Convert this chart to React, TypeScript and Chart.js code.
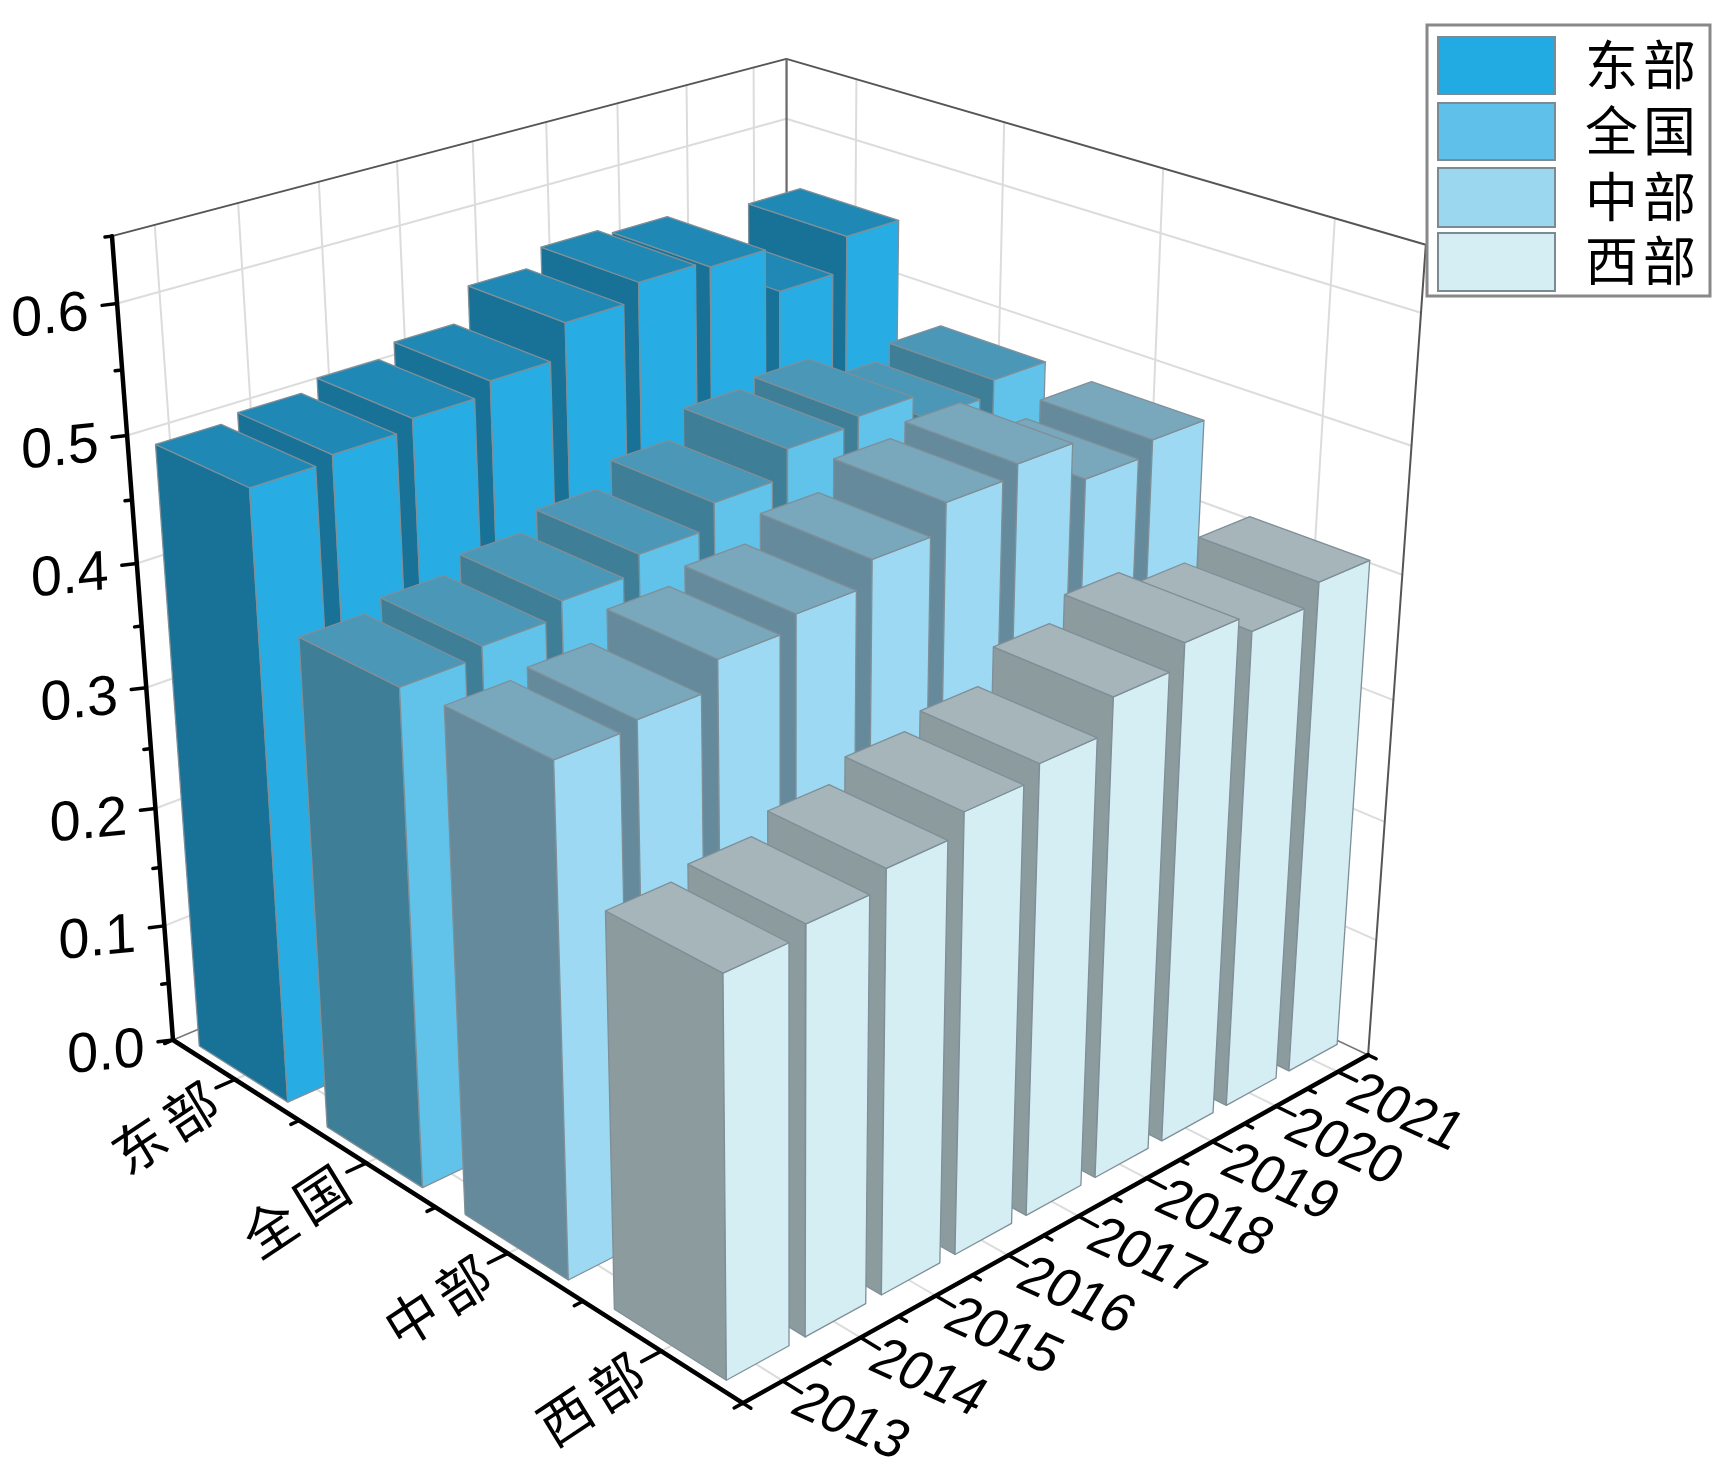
import React, { useEffect, useRef } from "react";
import { Chart, registerables } from "chart.js";

Chart.register(...registerables);

const regions = ["东部", "全国", "中部", "西部"];
const years = ["2013", "2014", "2015", "2016", "2017", "2018", "2019", "2020", "2021"];
const eastValues = [0.498, 0.503, 0.511, 0.521, 0.548, 0.562, 0.557, 0.52, 0.548];
const nationalValues = [0.4, 0.408, 0.42, 0.434, 0.453, 0.475, 0.481, 0.46, 0.472];
const centralValues = [0.403, 0.408, 0.429, 0.44, 0.459, 0.481, 0.49, 0.458, 0.469];
const westValues = [0.311, 0.319, 0.333, 0.349, 0.36, 0.386, 0.404, 0.39, 0.406];
const valueTicks = [0, 0.1, 0.2, 0.3, 0.4, 0.5, 0.6];
const valueMax = 0.65;

const seriesValues = [eastValues, nationalValues, centralValues, westValues];
const rightColors = ["#27ADE3", "#62C3EA", "#9DD9F2", "#D5EEF4"];
const leftColors = ["#187197", "#3F7E97", "#648A9B", "#8B9B9E"];
const topColors = ["#1F88B4", "#4B97B8", "#79A8BD", "#A5B5BA"];
const legendColors = ["#22ABE2", "#5FC1E9", "#9BD8F0", "#D5EEF4"];

const W = 1732;
const H = 1472;

// perspective camera: origin and three weighted vanishing points
function project(u: number, v: number, value: number) {
  const z = value / valueMax;
  const wu = -0.1456, wv = 0.1367, wz = -0.09;
  const d = 1 + u * wu + v * wv + z * wz;
  return {
    x: (173 + u * wu * -3171 + v * wv * 5276 + z * wz * 790) / d,
    y: (1040 + u * wu * -1091 + v * wv * -1121 + z * wz * 9168) / d,
  };
}

const lineSet = (pts: any[], color: string, width: number) => ({
  data: pts, showLine: true, fill: false, borderColor: color, borderWidth: width,
  pointRadius: 0, tension: 0, clip: false, borderCapStyle: "round", borderJoinStyle: "round",
});
const faceSet = (pts: any[], color: string) => ({
  data: [...pts, pts[0]], showLine: true, fill: "shape", backgroundColor: color,
  borderColor: "#7f8f98", borderWidth: 1.3, pointRadius: 0, tension: 0, clip: false, borderJoinStyle: "round",
});

function buildDatasets() {
  const out: any[] = [];
  const grid = "#dcdcdc";
  const frame = "#555555";
  const nY = years.length, nC = regions.length;
  const zTicks = valueTicks.slice(1);
  // floor grid
  for (let i = 0; i < nY; i++) out.push(lineSet([project(0, (i + 0.5) / nY, 0), project(1, (i + 0.5) / nY, 0)], grid, 2));
  for (let i = 0; i < nC; i++) out.push(lineSet([project((i + 0.5) / nC, 0, 0), project((i + 0.5) / nC, 1, 0)], grid, 2));
  // left wall (u = 0) and right wall (v = 1)
  for (let i = 0; i < nY; i++) out.push(lineSet([project(0, (i + 0.5) / nY, 0), project(0, (i + 0.5) / nY, valueMax)], grid, 2));
  for (let i = 0; i < nC; i++) out.push(lineSet([project((i + 0.5) / nC, 1, 0), project((i + 0.5) / nC, 1, valueMax)], grid, 2));
  for (const t of zTicks) {
    out.push(lineSet([project(0, 0, t), project(0, 1, t), project(1, 1, t)], grid, 2));
  }
  // frame
  out.push(lineSet([project(0, 0, valueMax), project(0, 1, valueMax), project(1, 1, valueMax), project(1, 1, 0)], frame, 2));
  out.push(lineSet([project(0, 1, valueMax), project(0, 1, 0)], "#6a6a6a", 2));
  out.push(lineSet([project(0, 0, 0), project(0, 1, 0), project(1, 1, 0)], "#777777", 1.5));
  // axes
  out.push(lineSet([project(0, 0, valueMax), project(0, 0, 0), project(1, 0, 0), project(1, 1, 0)], "#000000", 4.5));
  // value ticks
  for (let i = 0; i <= 13; i++) {
    const val = i * 0.05;
    const p = project(0, 0, val);
    const len = i % 2 === 0 ? 15 : 7;
    out.push(lineSet([p, { x: p.x - len, y: p.y + len * 0.12 }], "#000000", 3.5));
  }
  // region ticks
  for (let i = 0; i <= 2 * nC; i++) {
    const u = i / (2 * nC);
    const major = i % 2 === 1;
    out.push(lineSet([project(u, 0, 0), project(u, major ? -0.027 : -0.012, 0)], "#000000", 3.5));
  }
  // year ticks
  for (let i = 0; i <= 2 * nY; i++) {
    const v = i / (2 * nY);
    const major = i % 2 === 1;
    out.push(lineSet([project(1, v, 0), project(major ? 1.028 : 1.012, v, 0)], "#000000", 3.5));
  }
  // bars, back to front; they sit just above the floor
  const du = 0.0875, dv = 0.044, b = 0.002;
  seriesValues.forEach((vals, c) => {
    const uc = (c + 0.5) / nC;
    for (let y = nY - 1; y >= 0; y--) {
      const vc = (y + 0.5) / nY;
      const u0 = uc - du, u1 = uc + du, v0 = vc - dv, v1 = vc + dv;
      const h = vals[y];
      out.push(faceSet([project(u0, v0, b), project(u1, v0, b), project(u1, v0, h), project(u0, v0, h)], leftColors[c]));
      out.push(faceSet([project(u1, v0, b), project(u1, v1, b), project(u1, v1, h), project(u1, v0, h)], rightColors[c]));
      out.push(faceSet([project(u0, v0, h), project(u1, v0, h), project(u1, v1, h), project(u0, v1, h)], topColors[c]));
    }
  });
  return out.reverse(); // Chart.js paints the first dataset last
}

const cjk = '"Noto Sans CJK SC", sans-serif';
const latin = '"Liberation Sans", Arial, sans-serif';

const labelsPlugin = {
  id: "labels3d",
  afterDraw(chart: any) {
    const ctx = chart.ctx as any;
    const put = (t: string, x: number, y: number, m: number[], font: string, sp = "0px") => {
      ctx.save();
      ctx.transform(m[0], m[1], m[2], m[3], x, y);
      ctx.font = font;
      ctx.letterSpacing = sp;
      ctx.fillStyle = "#000";
      ctx.textAlign = "center";
      ctx.textBaseline = "middle";
      ctx.fillText(t, 0, 0);
      ctx.restore();
    };
    valueTicks.forEach((t) => {
      const p = project(0, 0, t);
      put(t.toFixed(1), p.x - 67, p.y + 14, [0.995, -0.1, 0.03, 1], `56px ${latin}`);
    });
    regions.forEach((r, i) => {
      const p = project((i + 0.5) / regions.length, 0, 0);
      put(r, p.x - 67, p.y + 46, [0.83, -0.55, 0.52, 0.85], `54px ${cjk}`, "8px");
    });
    years.forEach((r, i) => {
      const p = project(1, (i + 0.5) / years.length, 0);
      put(r, p.x + 67, p.y + 42, [0.91, 0.41, -0.56, 0.9], `53px ${latin}`);
    });
    // legend
    ctx.save();
    ctx.fillStyle = "#fff";
    ctx.strokeStyle = "#888";
    ctx.lineWidth = 3;
    ctx.fillRect(1427, 25, 283, 271);
    ctx.strokeRect(1427, 25, 283, 271);
    const rows = [[37, 57], [103, 57], [168, 59], [233, 58]];
    regions.forEach((r, i) => {
      ctx.fillStyle = legendColors[i];
      ctx.strokeStyle = "#7b8b93";
      ctx.lineWidth = 2;
      ctx.fillRect(1438, rows[i][0], 117, rows[i][1]);
      ctx.strokeRect(1438, rows[i][0], 117, rows[i][1]);
      ctx.font = `53px ${cjk}`;
      ctx.letterSpacing = "5px";
      ctx.fillStyle = "#000";
      ctx.textAlign = "left";
      ctx.textBaseline = "middle";
      ctx.fillText(r, 1585, rows[i][0] + rows[i][1] / 2 - 1);
    });
    ctx.restore();
  },
};

export default function App() {
  const ref = useRef<HTMLCanvasElement>(null);
  useEffect(() => {
    document.body.style.margin = "0";
    const chart = new Chart(ref.current as HTMLCanvasElement, {
      type: "scatter",
      data: { datasets: buildDatasets() },
      options: {
        animation: false,
        responsive: false,
        events: [],
        layout: { padding: 0 },
        plugins: { legend: { display: false }, tooltip: { enabled: false } },
        scales: {
          x: { type: "linear", min: 0, max: W, display: false },
          y: { type: "linear", min: 0, max: H, reverse: true, display: false },
        },
      },
      plugins: [labelsPlugin],
    } as any);
    return () => chart.destroy();
  }, []);
  return <canvas ref={ref} width={W} height={H} style={{ display: "block", background: "#fff" }} />;
}
